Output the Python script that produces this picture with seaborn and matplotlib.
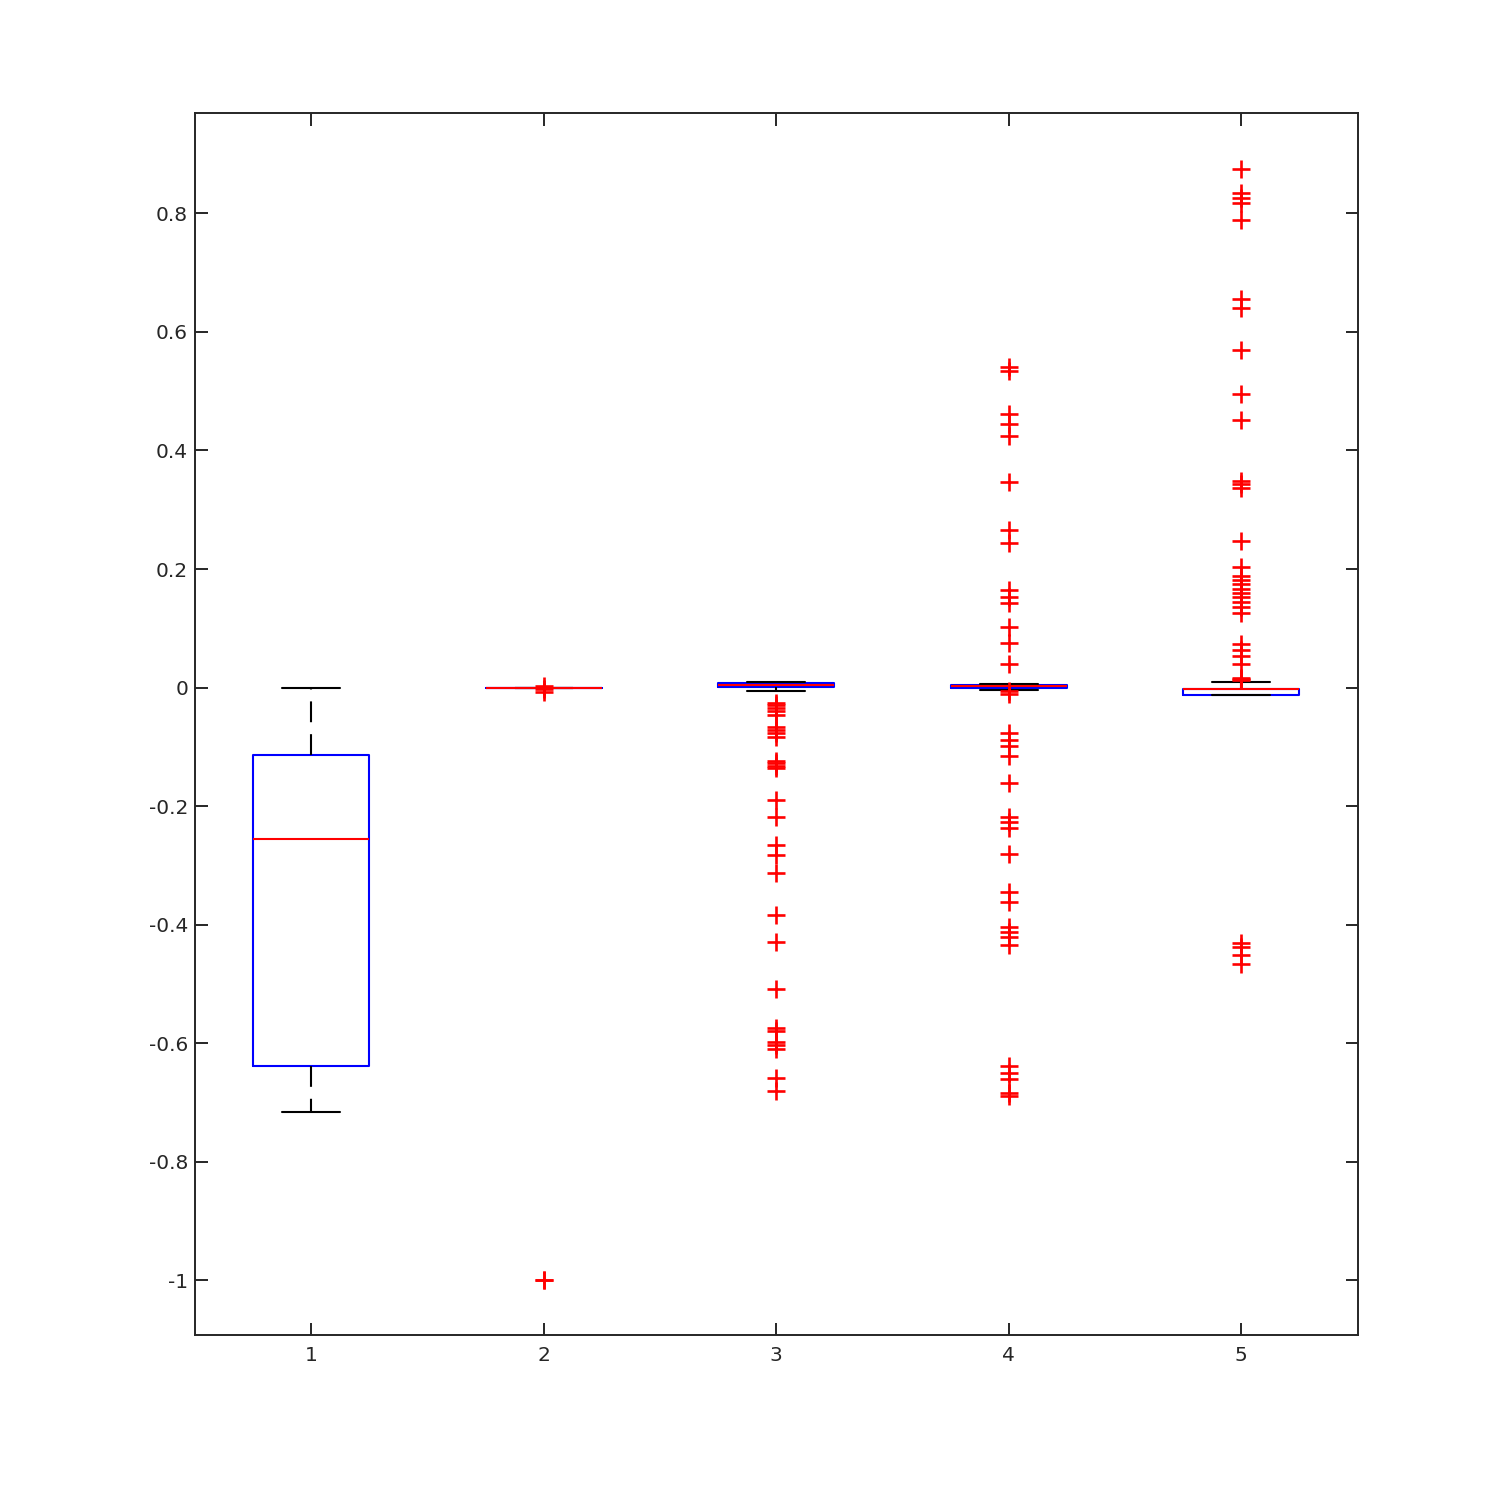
import matplotlib
matplotlib.use("Agg")
import matplotlib.pyplot as plt
import seaborn as sns
import pandas as pd

# --- data ------------------------------------------------------------------
groups = [1, 2, 3, 4, 5]

q1 = [-0.638, 0.0, 0.001, 0.000, -0.012]
medians = [-0.255, 0.0, 0.004, 0.002, -0.002]
q3 = [-0.113, 0.0, 0.008, 0.005, -0.002]
whisker_low = [-0.716, 0.0, -0.005, -0.004, -0.012]
whisker_high = [0.0, 0.0, 0.009, 0.006, 0.010]

outliers_1 = []
outliers_2 = [0.002, -0.003, -0.008, -1.0, -1.0]
outliers_3 = [-0.026, -0.030, -0.034, -0.039, -0.047, -0.066, -0.071, -0.077,
              -0.084, -0.123, -0.128, -0.132, -0.136, -0.189, -0.218, -0.265,
              -0.282, -0.312, -0.383, -0.429, -0.509, -0.574, -0.580, -0.598,
              -0.603, -0.610, -0.658, -0.681]
outliers_4 = [0.540, 0.534, 0.462, 0.444, 0.424, 0.347, 0.265, 0.244, 0.164,
              0.152, 0.142, 0.103, 0.075, 0.040, -0.005, -0.011, -0.077,
              -0.088, -0.098, -0.116, -0.161, -0.219, -0.226, -0.236, -0.281,
              -0.345, -0.361, -0.404, -0.413, -0.421, -0.434, -0.638, -0.650,
              -0.660, -0.684, -0.689]
outliers_5 = [0.875, 0.835, 0.826, 0.817, 0.789, 0.656, 0.641, 0.570, 0.496,
              0.452, 0.349, 0.344, 0.336, 0.248, 0.203, 0.189, 0.182, 0.175,
              0.167, 0.159, 0.152, 0.144, 0.136, 0.126, 0.073, 0.064, 0.054,
              0.040, 0.017, 0.015, 0.013, -0.430, -0.437, -0.451, -0.466]
outliers = [outliers_1, outliers_2, outliers_3, outliers_4, outliers_5]

y_ticks = [-1, -0.8, -0.6, -0.4, -0.2, 0, 0.2, 0.4, 0.6, 0.8]
y_tick_labels = ["-1", "-0.8", "-0.6", "-0.4", "-0.2", "0", "0.2", "0.4", "0.6", "0.8"]

# --- style --------------------------------------------------------------
sns.set_theme(style="white")
plt.rcParams['font.family'] = ['DejaVu Sans']
plt.rcParams['lines.scale_dashes'] = False

fig = plt.figure(figsize=(15, 15), dpi=100)
ax = fig.add_axes([0.13, 0.11, 0.775, 0.815])

stats = []
for i, g in enumerate(groups):
    stats.append(dict(med=medians[i], q1=q1[i], q3=q3[i],
                      whislo=whisker_low[i], whishi=whisker_high[i],
                      fliers=[], label=str(g)))

lw = 1.5
ax.bxp(stats, positions=groups, widths=0.5, capwidths=0.25, showfliers=False,
       boxprops=dict(color="blue", linewidth=lw),
       medianprops=dict(color="red", linewidth=lw),
       whiskerprops=dict(color="black", linewidth=lw, linestyle=(0, (15, 8.6))),
       capprops=dict(color="black", linewidth=lw))

# outliers drawn on top of the boxes
flier_df = pd.DataFrame(
    [(g, v) for g, vals in zip(groups, outliers) for v in vals],
    columns=["group", "value"])
sns.scatterplot(data=flier_df, x="group", y="value", marker="+", color="red",
                s=150, linewidth=1.9, ax=ax, zorder=5, legend=False)

ax.set_xlim(0.5, 5.5)
ax.set_ylim(-1.092, 0.970)
ax.set_xticks(groups)
ax.set_xticklabels([str(g) for g in groups])
ax.set_yticks(y_ticks)
ax.set_yticklabels(y_tick_labels)
ax.set_xlabel("")
ax.set_ylabel("")

for side in ["left", "right", "top", "bottom"]:
    ax.spines[side].set_visible(True)
    ax.spines[side].set_color("#262626")
    ax.spines[side].set_linewidth(1.4)

ax.tick_params(direction="in", length=9, width=1.4, color="#262626",
               labelcolor="#262626", labelsize=14.5,
               top=True, right=True, left=True, bottom=True)
ax.tick_params(axis="y", pad=5)
ax.tick_params(axis="x", pad=8)
ax.grid(False)

fig.savefig("out.png", dpi=100, facecolor="white")
plt.close(fig)
